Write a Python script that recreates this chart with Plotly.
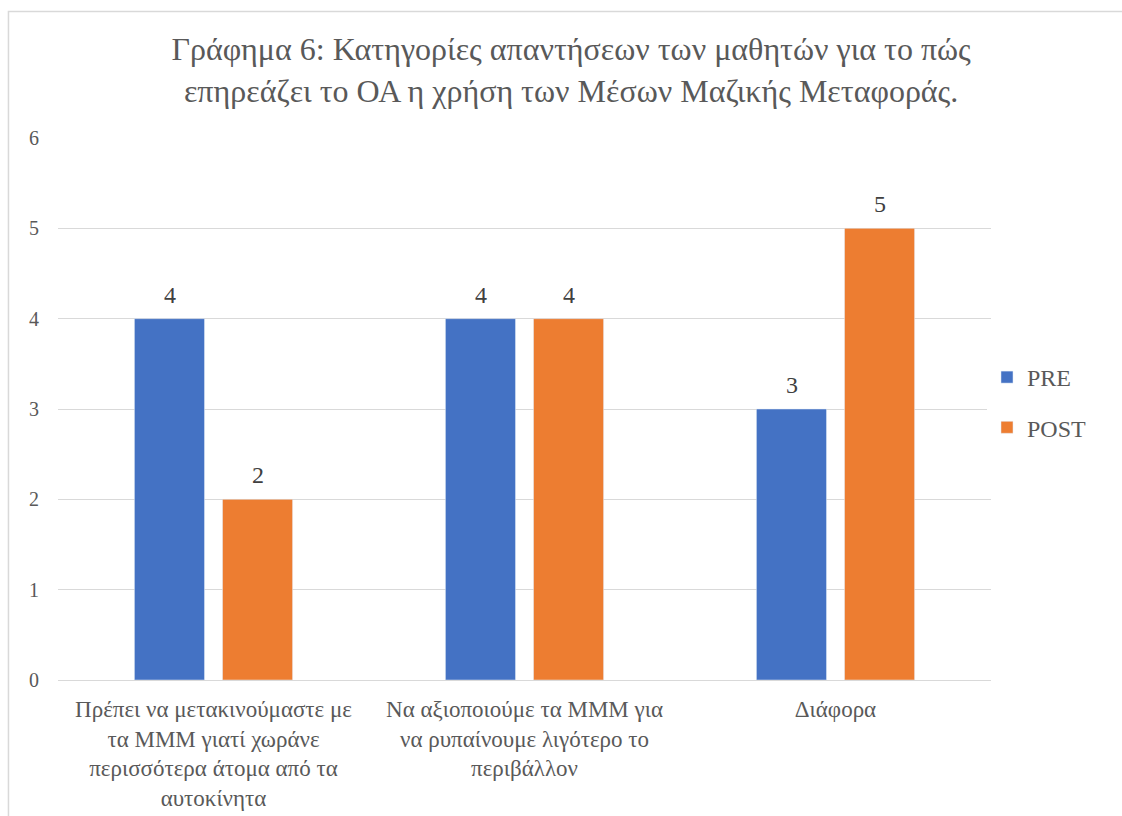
import plotly.graph_objects as go

# Survey answers: how the use of public transport affects the environment
categories = [
    "Πρέπει να μετακινούμαστε με<br>τα ΜΜΜ γιατί χωράνε<br>περισσότερα άτομα από τα<br>αυτοκίνητα",
    "Να αξιοποιούμε τα ΜΜΜ για<br>να ρυπαίνουμε λιγότερο το<br>περιβάλλον",
    "Διάφορα",
]
pre_values = [4, 4, 3]
post_values = [2, 4, 5]
y_ticks = [0, 1, 2, 3, 4, 5, 6]

title_text = ("Γράφημα 6: Κατηγορίες απαντήσεων των μαθητών για το πώς<br>"
              "επηρεάζει το ΟΑ η χρήση των Μέσων Μαζικής Μεταφοράς.")

SERIF = "Liberation Serif"
GREY = "#595959"

fig = go.Figure()
fig.add_trace(go.Bar(
    name="PRE", x=categories, y=pre_values, marker_color="#4472C4",
    legendgroup="pre",
))
fig.add_trace(go.Bar(
    name="POST", x=categories, y=post_values, marker_color="#ED7D31",
    legendgroup="post",
))

# value labels above each bar (offset to the left/right slot of the group)
for values, shift in ((pre_values, -44), (post_values, 44)):
    for cat, v in zip(categories, values):
        fig.add_annotation(x=cat, y=v, text=str(v), showarrow=False,
                           xshift=shift, yshift=9, yanchor="bottom",
                           font=dict(family=SERIF, size=24, color="#404040"))

fig.update_layout(
    width=1122, height=816,
    margin=dict(l=58, r=131, t=138, b=136, autoexpand=False),
    paper_bgcolor="white", plot_bgcolor="white",
    font=dict(family=SERIF, color=GREY, size=20),
    barmode="group", bargap=0.4335, bargroupgap=0.2045,
    title=dict(text=title_text, x=0.509, xref="container", xanchor="center",
               y=0.926, yref="container", yanchor="top",
               font=dict(family=SERIF, size=32, color=GREY)),
    legend=dict(x=0.9957, xanchor="left", y=0.512, yanchor="middle",
                traceorder="grouped", tracegroupgap=16,
                font=dict(family=SERIF, size=24, color=GREY)),
    showlegend=True,
)
fig.update_yaxes(range=[0, 6], tickvals=y_ticks, showgrid=True, gridcolor="#d9d9d9",
                 gridwidth=1, zeroline=False, showline=False, ticks="", automargin=False,
                 ticklabelstandoff=18, tickfont=dict(family=SERIF, size=20, color=GREY))
fig.update_xaxes(showline=True, linecolor="#d9d9d9", linewidth=1, ticks="", automargin=False,
                 ticklabelstandoff=8, tickfont=dict(family=SERIF, size=23, color=GREY))

# chart frame
fig.add_shape(type="rect", xref="paper", yref="paper",
              x0=-0.0531, x1=1.3, y0=-0.5, y1=1.2334,
              line=dict(color="#d9d9d9", width=1.5), layer="below")

fig.write_html("out.html")
